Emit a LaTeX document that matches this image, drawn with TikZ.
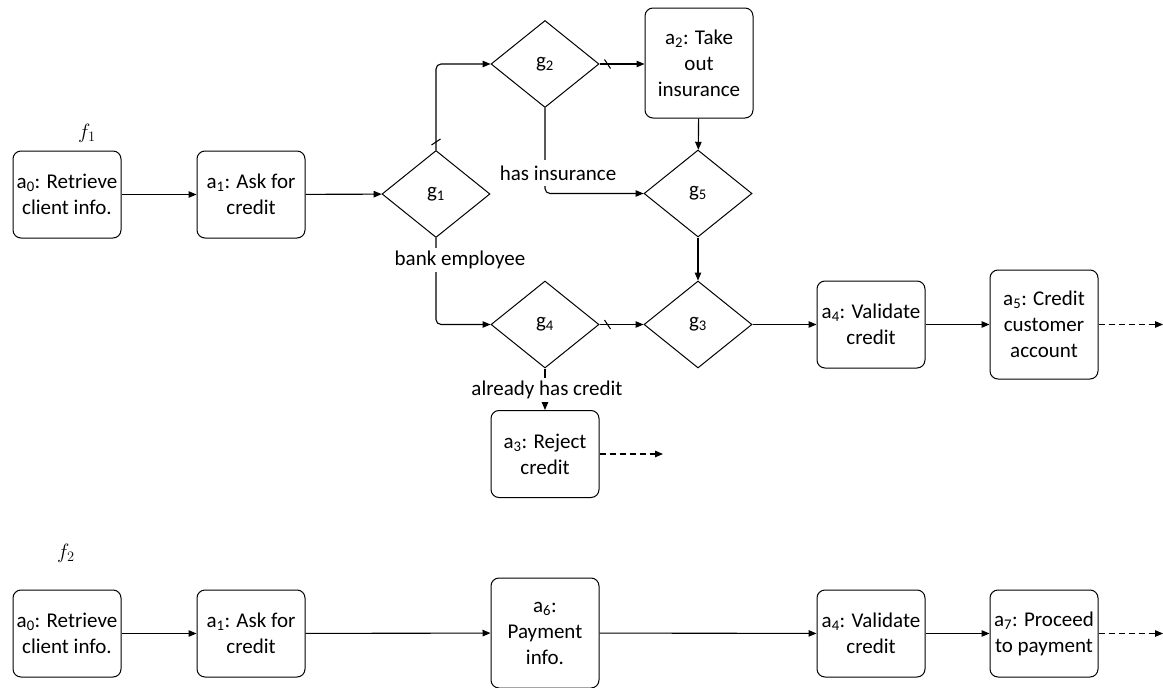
\documentclass[tikz,border=0pt]{standalone}
\usepackage{fontspec}
\setmainfont{Carlito}
\usetikzlibrary{shapes.geometric,arrows.meta,decorations.markings}
\tikzset{
  base/.style={font=\fontsize{21}{26}\selectfont, align=center},
  act/.style={base, draw, line width=1pt, rounded corners=8pt, minimum width=108pt, minimum height=87pt, inner sep=2pt, fill=white},
  gw/.style={base, draw, line width=1pt, diamond, minimum width=108pt, minimum height=87pt, inner sep=0pt, fill=white},
  flow/.style={line width=1.1pt, -{Triangle[length=8pt,width=6.5pt]}, rounded corners=5pt},
  dflow/.style={flow, dash pattern=on 6pt off 4pt},
  lbl/.style={base, fill=white, inner xsep=1pt, inner ysep=3pt},
  fl/.style={font=\fontsize{21}{26}\selectfont},
  deftick/.style={postaction={decorate}, decoration={markings, mark=at position 8pt with {\draw[solid, line width=1pt, -] (-3pt,4.5pt) -- (3pt,-4.5pt);}}}
}
\begin{document}
\begin{tikzpicture}[x=1pt,y=-1pt]
\fill[white] (0,0) rectangle (1163,688);
\useasboundingbox (0,0) rectangle (1163,688);

% ---- f1 ----
\node[fl] (f1) at (87,133) {$f_1$};
\node[act] (a0) at (67,194.5) {a\textsubscript{0}: Retrieve\\client info.};
\node[act] (a1) at (251,194.5) {a\textsubscript{1}: Ask for\\credit};
\node[gw] (g1) at (436,194) {g\textsubscript{1}};
\node[gw] (g2) at (545,64) {g\textsubscript{2}};
\node[act, minimum height=110pt] (a2) at (699,63) {a\textsubscript{2}: Take\\out\\insurance};
\node[gw] (g5) at (698,193.5) {g\textsubscript{5}};
\node[gw] (g4) at (545,324.5) {g\textsubscript{4}};
\node[gw] (g3) at (698,324.5) {g\textsubscript{3}};
\node[act] (a4) at (871,324.5) {a\textsubscript{4}: Validate\\credit};
\node[act, minimum height=109pt] (a5) at (1044,324.5) {a\textsubscript{5}: Credit\\customer\\account};
\node[act] (a3) at (545,454) {a\textsubscript{3}: Reject\\credit};
\coordinate (e5) at (1163,324.5);
\coordinate (e3) at (663,454);

\draw[flow] (a0) -- (a1);
\draw[flow] (a1) -- (g1);
\draw[flow, deftick] (g1.north) |- (g2.west);
\draw[flow, deftick] (g2.east) -- (g2.east -| a2.west);
\draw[flow] (g2.south) |- (g5.west);
\draw[flow] (a2) -- (g5);
\draw[flow] (g1.south) |- (g4.west);
\draw[flow] (g5) -- (g3);
\draw[flow, deftick] (g4) -- (g3);
\draw[flow] (g4) -- (a3);
\draw[flow] (g3) -- (a4);
\draw[flow] (a4) -- (a5);
\draw[dflow] (a5) -- (e5);
\draw[dflow] (a3) -- (e3);

\node[lbl, inner ysep=6pt] (l1) at (558,173) {has insurance};
\node[lbl] (l2) at (460,260) {bank employee};
\node[lbl] (l3) at (547,390) {already has credit};

% ---- f2 ----
\node[fl] (f2) at (66,553) {$f_2$};
\node[act] (b0) at (67,633.5) {a\textsubscript{0}: Retrieve\\client info.};
\node[act] (b1) at (251,633.5) {a\textsubscript{1}: Ask for\\credit};
\node[act, minimum height=110pt] (b6) at (545,633) {a\textsubscript{6}:\\Payment\\info.};
\node[act] (b4) at (871,633.5) {a\textsubscript{4}: Validate\\credit};
\node[act] (b7) at (1044,633.5) {a\textsubscript{7}: Proceed\\to payment};
\coordinate (e7) at (1163,633.5);

\draw[flow] (b0) -- (b1);
\draw[flow] (b1) -- (b6);
\draw[flow] (b6) -- (b4);
\draw[flow] (b4) -- (b7);
\draw[dflow] (b7) -- (e7);
\end{tikzpicture}
\end{document}
